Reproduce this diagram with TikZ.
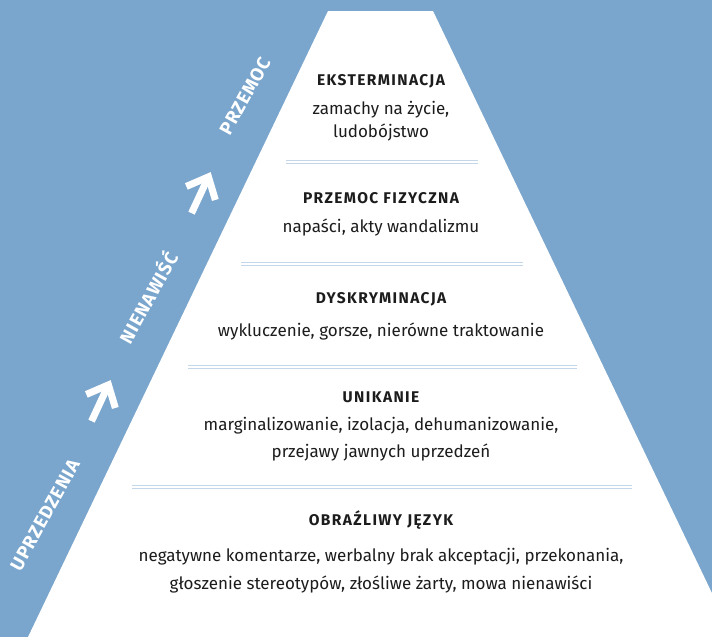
\documentclass[tikz,border=0pt]{standalone}
\usepackage{fontspec}
\setmainfont{Fira Sans}
\newfontfamily\headfont[LetterSpace=9]{Fira Sans}
\newfontfamily\sidefont[LetterSpace=5]{Fira Sans}
\definecolor{bgblue}{RGB}{122,166,205}
\definecolor{sepblue}{RGB}{196,214,234}
\definecolor{ink}{RGB}{28,28,28}
\begin{document}
\begin{tikzpicture}[x=1pt,y=-1pt,
  sepline/.style={draw=sepblue, line width=1.1pt},
  head/.style={font=\headfont\bfseries\fontsize{15.5}{18}\selectfont, text=ink, inner sep=0pt},
  body/.style={font=\fontsize{17}{20}\selectfont, text=ink, inner sep=0pt},
  side/.style={font=\sidefont\bfseries\fontsize{18.5}{21}\selectfont, text=white, rotate=61, inner sep=0pt},
  arrowstroke/.style={draw=white, line width=7pt, line join=miter, line cap=butt}]
\fill[bgblue] (0,0) rectangle (712,637);
\useasboundingbox (0,0) rectangle (712,637);
\fill[white] (328,11) -- (433,11) -- (733,637) -- (28,637) -- cycle;

% separators
\foreach \ya/\xl/\xr in {162/286/478, 264/241/523, 367/188/577, 487/132/632}{
  \draw[sepline] (\xl,\ya-1.6) -- (\xr,\ya-1.6);
  \draw[sepline] (\xl,\ya+1.6) -- (\xr,\ya+1.6);
}

% level texts
\node[head] (h1) at (381,81) {EKSTERMINACJA};
\node[body] (b1a) at (381,110) {zamachy na życie,};
\node[body] (b1b) at (381,132) {ludobójstwo};
\node[head] (h2) at (381,198) {PRZEMOC FIZYCZNA};
\node[body] (b2) at (381,227) {napaści, akty wandalizmu};
\node[head] (h3) at (381,299) {DYSKRYMINACJA};
\node[body] (b3) at (381,331) {wykluczenie, gorsze, nierówne traktowanie};
\node[head] (h4) at (381,397) {UNIKANIE};
\node[body] (b4a) at (381,426) {marginalizowanie, izolacja, dehumanizowanie,};
\node[body] (b4b) at (381,452) {przejawy jawnych uprzedzeń};
\node[head] (h5) at (381,520) {OBRAŹLIWY JĘZYK};
\node[body] (b5a) at (381,557) {negatywne komentarze, werbalny brak akceptacji, przekonania,};
\node[body] (b5b) at (381,584) {głoszenie stereotypów, złośliwe żarty, mowa nienawiści};

% side labels
\node[side] (s1) at (45,515) {UPRZEDZENIA};
\node[side] (s2) at (147,297) {NIENAWIŚĆ};
\node[side] (s3) at (245,96) {PRZEMOC};

% arrows
\foreach \cx/\cy in {100/403, 200/195}{
  \begin{scope}[shift={(\cx,\cy)}, rotate=65]
    \draw[arrowstroke] (2,16) -- (20,0) -- (2,-16);
    \draw[arrowstroke] (-20,0) -- (16,0);
  \end{scope}
}
\end{tikzpicture}
\end{document}
